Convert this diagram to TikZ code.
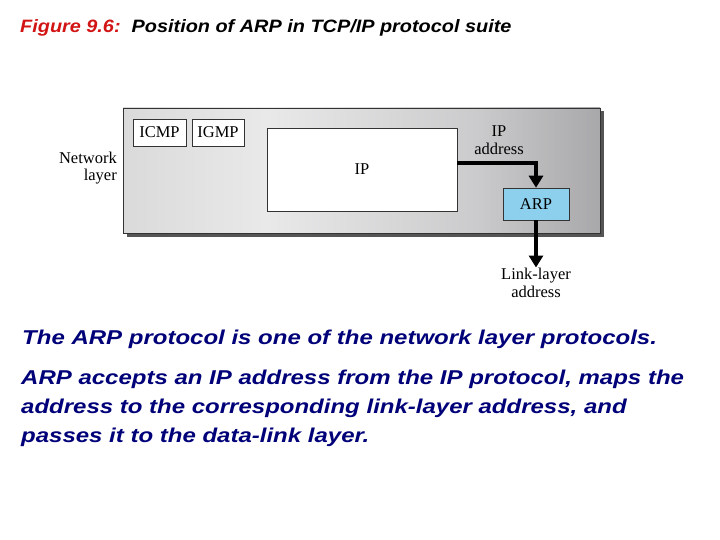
\documentclass[tikz,border=0pt]{standalone}
\usepackage{fontspec}
\setmainfont{Liberation Serif}
\newfontfamily\slidefont[FakeStretch=1.11]{Liberation Sans}
\newfontfamily\bodyfont[FakeStretch=1.2]{Liberation Sans}
\usetikzlibrary{arrows.meta,positioning,shadows}
\definecolor{titlered}{RGB}{210,20,20}
\definecolor{textnavy}{RGB}{0,0,120}
\definecolor{arpblue}{RGB}{140,208,238}
\definecolor{layerlight}{RGB}{233,233,234}
\definecolor{layermid}{RGB}{218,218,219}
\definecolor{layerdark}{RGB}{168,168,170}
\definecolor{shadowgray}{RGB}{85,85,85}
\pgfdeclarehorizontalshading{layershade}{100bp}{
  color(0bp)=(layermid); color(25bp)=(layermid); color(40bp)=(layerlight);
  color(62bp)=(layermid!70!layerdark); color(75bp)=(layerdark); color(100bp)=(layerdark)}
\tikzset{
  layerbox/.style={
    rectangle,
    draw=black!80,
    thin,
    shading=layershade,
    drop shadow={shadow xshift=3.5pt, shadow yshift=-3.5pt, fill=shadowgray, opacity=1},
    inner sep=0pt
  },
  protobox/.style={
    rectangle,
    draw=black!80,
    semithick,
    fill=white,
    inner sep=0pt,
    font=\fontsize{16.5}{18}\selectfont
  },
  difflabel/.style={
    align=center,
    inner sep=0pt,
    font=\fontsize{16.5}{18.5}\selectfont
  },
  addrarrow/.style={
    -{Triangle[length=12pt, width=14pt]},
    line width=4pt,
    draw=black
  },
  slidetext/.style={
    align=left,
    inner sep=0pt,
    text=textnavy,
    font=\bodyfont\bfseries\itshape\fontsize{20}{29}\selectfont
  }
}

\begin{document}
\begin{tikzpicture}[x=1pt, y=-1pt]
\useasboundingbox (0,0) rectangle (720,540);

% title
\node[anchor=west, inner sep=0pt, font=\slidefont\bfseries\itshape\fontsize{17.9}{20}\selectfont] (title) at (20,28)
  {\textcolor{titlered}{Figure 9.6:}\ \ Position of ARP in TCP/IP protocol suite};

% network layer
\node[layerbox, minimum width=477pt, minimum height=125pt] (netlayer) at (361.5,170.5) {};
\node[protobox, minimum width=53pt, minimum height=27pt] (icmp) at (159.5,132.5) {ICMP};
\node[protobox, minimum width=52pt, minimum height=27pt] (igmp) at (218,132.5) {IGMP};
\node[protobox, minimum width=190pt, minimum height=83pt] (ip) at (362,169.5) {IP};
\node[protobox, fill=arpblue, minimum width=66pt, minimum height=32pt] (arp) at (536,204) {ARP};
\node[difflabel, align=right, anchor=east, font=\fontsize{16.5}{17}\selectfont] (netname) at (117,168.5) {Network\\layer};
\node[difflabel] (ipaddr) at (499,140) {IP\\address};
\node[difflabel, anchor=north] (linkaddr) at (536,267.5) {Link-layer\\address};

\draw[addrarrow] ([yshift=6.5pt]ip.east) -| (arp.north);
\draw[addrarrow] (arp.south) -- (linkaddr.north);

% explanation
\node[slidetext, anchor=west] (point1) at (22,339)
  {The ARP protocol is one of the network layer protocols.};
\node[slidetext, anchor=north west] (point2) at (21,369.5)
  {ARP accepts an IP address from the IP protocol, maps the\\
   address to the corresponding link-layer address, and\\
   passes it to the data-link layer.};
\end{tikzpicture}
\end{document}
